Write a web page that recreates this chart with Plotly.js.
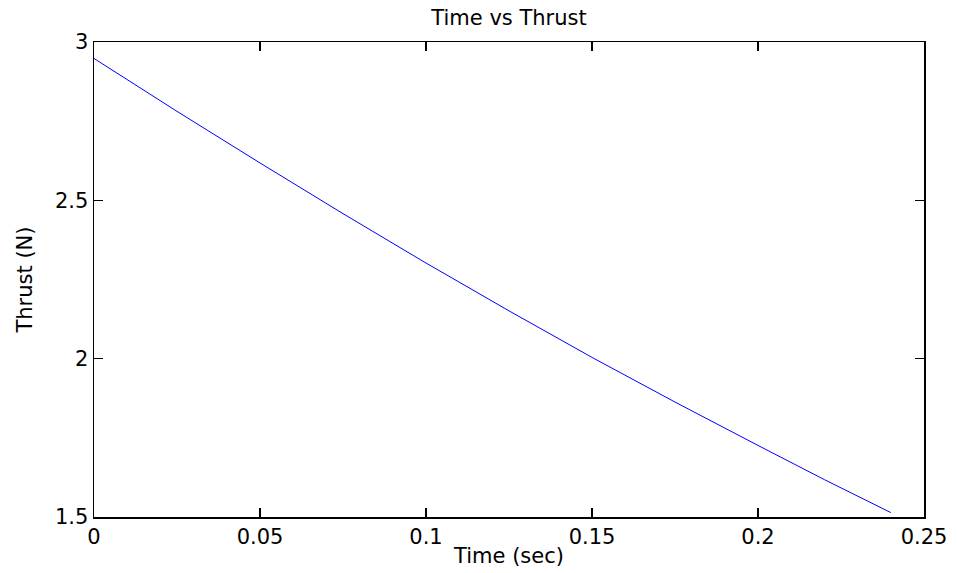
<!DOCTYPE html>
<html>
<head>
<meta charset="utf-8">
<script src="https://cdn.plot.ly/plotly-3.0.1.min.js"></script>
<style>html,body{margin:0;padding:0;background:#fff;}#chart{width:957px;height:573px;}</style>
</head>
<body>
<div id="chart"></div>
<script>
const timeSec = [0, 0.025, 0.05, 0.075, 0.1, 0.125, 0.15, 0.175, 0.2, 0.22, 0.24];
const thrustN = [2.948, 2.781, 2.618, 2.458, 2.302, 2.151, 2.004, 1.863, 1.726, 1.618, 1.514];
const xTicks = [0, 0.05, 0.1, 0.15, 0.2, 0.25];
const xTickText = ['0', '0.05', '0.1', '0.15', '0.2', '0.25'];
const yTicks = [1.5, 2, 2.5, 3];
const yTickText = ['1.5', '2', '2.5', '3'];

const font = {family: 'DejaVu Sans, Liberation Sans, Arial, sans-serif', size: 21, color: '#000'};

const trace = {
  x: timeSec, y: thrustN, type: 'scatter', mode: 'lines',
  line: {color: '#0000ff', width: 1}, hoverinfo: 'skip'
};

const axisCommon = {
  showline: true, linecolor: '#000', linewidth: 1.5, mirror: 'allticks',
  ticks: 'inside', ticklen: 9, tickwidth: 1.2, tickcolor: '#000',
  showgrid: false, zeroline: false, tickfont: font, fixedrange: true
};

const layout = {
  width: 957, height: 573,
  margin: {l: 94, r: 33, t: 42, b: 56},
  paper_bgcolor: '#fff', plot_bgcolor: '#fff',
  showlegend: false, font: font,
  title: {text: 'Time vs Thrust', font: font, x: 0.5, xref: 'paper', y: 1 - 18/573, yref: 'container', yanchor: 'middle'},
  xaxis: Object.assign({}, axisCommon, {
    range: [0, 0.25], tickvals: xTicks, ticktext: xTickText,
    title: {text: 'Time (sec)', font: font, standoff: 0}
  }),
  yaxis: Object.assign({}, axisCommon, {
    range: [1.5, 3], tickvals: yTicks, ticktext: yTickText,
    title: {text: 'Thrust (N)', font: font, standoff: 16}
  })
};

Plotly.newPlot('chart', [trace], layout, {staticPlot: true});
</script>
</body>
</html>
